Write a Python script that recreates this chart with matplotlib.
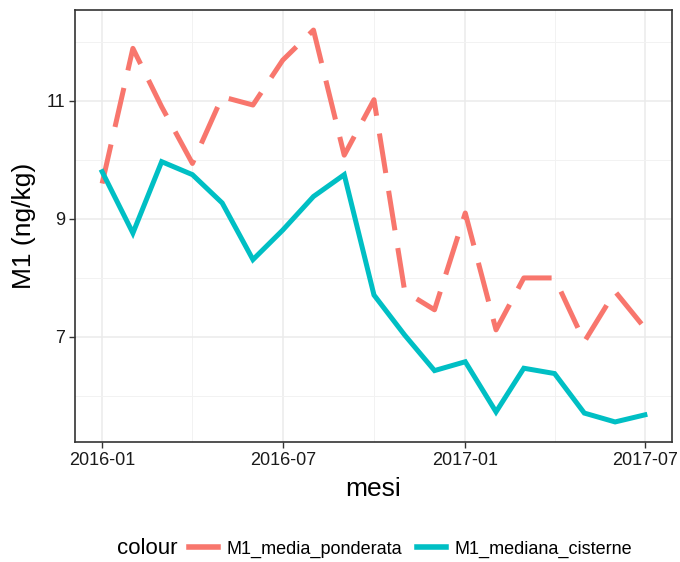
import numpy as np
import pandas as pd
import matplotlib
matplotlib.use('Agg')
import matplotlib.pyplot as plt
import matplotlib.dates as mdates
from matplotlib.offsetbox import HPacker

plt.rcParams['font.family'] = ['Liberation Sans', 'DejaVu Sans']

mesi = pd.date_range('2016-01-01', '2017-07-01', freq='MS')
media_ponderata = [9.60, 11.89, 10.90, 9.94, 11.07, 10.93, 11.69, 12.20, 10.08, 11.02,
                   7.77, 7.46, 9.10, 7.12, 8.00, 8.00, 6.92, 7.77, 7.15]
mediana_cisterne = [9.80, 8.76, 9.97, 9.75, 9.27, 8.31, 8.81, 9.38, 9.75, 7.71,
                    7.03, 6.43, 6.58, 5.73, 6.47, 6.38, 5.71, 5.56, 5.68]
etichette = ['M1_media_ponderata', 'M1_mediana_cisterne']
colori = ['#F8766D', '#00BFC4']

fig = plt.figure(figsize=(6.8, 5.62), dpi=100)
ax = fig.add_axes([75/680, 1-442/562, (672-75)/680, (442-10)/562])

l1, = ax.plot(mesi, media_ponderata, color=colori[0], lw=3.6, dashes=(8, 3.6),
              dash_capstyle='butt', solid_joinstyle='miter')
l2, = ax.plot(mesi, mediana_cisterne, color=colori[1], lw=3.6, solid_joinstyle='miter')

# limiti come ggplot (espansione 5%)
x0 = mdates.date2num(mesi[0]); x1 = mdates.date2num(mesi[-1])
pad = (x1 - x0) * 0.05
ax.set_xlim(x0 - pad, x1 + pad)
ax.set_ylim(5.22, 12.54)

ax.set_xticks(pd.to_datetime(['2016-01-01', '2016-07-01', '2017-01-01', '2017-07-01']))
ax.set_xticks(pd.to_datetime(['2016-04-01', '2016-10-01', '2017-04-01']), minor=True)
ax.xaxis.set_major_formatter(mdates.DateFormatter('%Y-%m'))
ax.set_yticks([7, 9, 11])
ax.set_yticks([6, 8, 10, 12], minor=True)

ax.grid(True, which='major', color='#EBEBEB', lw=1.1)
ax.grid(True, which='minor', color='#F2F2F2', lw=0.7)
ax.set_axisbelow(True)
ax.tick_params(which='major', length=4, width=1, color='#333333', labelsize=13,
               labelcolor='#1a1a1a', pad=3)
ax.tick_params(which='minor', length=0)
for s in ax.spines.values():
    s.set_color('#333333')
    s.set_linewidth(1.2)

ax.set_xlabel('mesi', fontsize=19, labelpad=6)
ax.set_ylabel('M1 (ng/kg)', fontsize=19, labelpad=8)

maniglie = [plt.Line2D([], [], color=c, lw=4) for c in colori]
leg = fig.legend(maniglie, etichette, loc='center', bbox_to_anchor=(375/680, 1-549/562),
                 ncol=2, frameon=False, fontsize=13, title='colour',
                 title_fontsize=16, handlelength=1.6, handletextpad=0.5,
                 columnspacing=0.8)
# titolo a sinistra delle voci
box = leg._legend_box
box._children = [HPacker(children=[box._children[0], box._children[1]], sep=8, align='center')]

fig.savefig('out.png', dpi=100)
